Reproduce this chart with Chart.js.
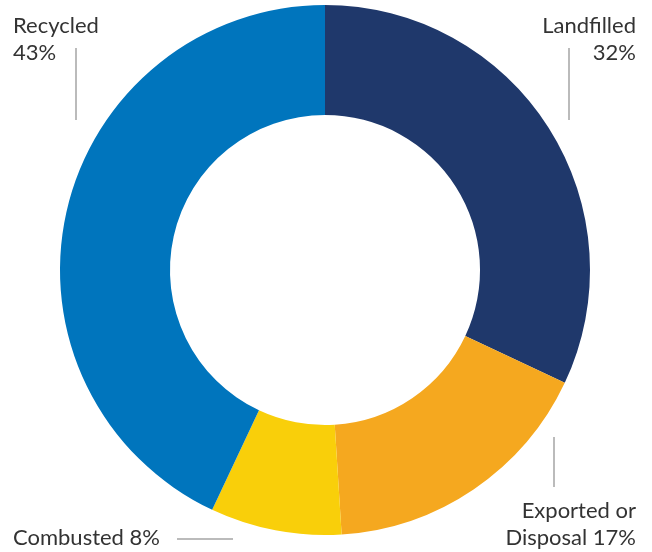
<!DOCTYPE html>
<html>
<head>
<meta charset="utf-8">
<script src="https://cdn.jsdelivr.net/npm/chart.js@4"></script>
<style>
  html, body { margin: 0; padding: 0; background: #fff; }
  #wrap { position: relative; width: 652px; height: 552px; }
</style>
</head>
<body>
<div id="wrap"><canvas id="waste"></canvas></div>
<script>
// Share of waste by destination (percent)
const categories = ['Landfilled', 'Exported or Disposal', 'Combusted', 'Recycled'];
const shares = [32, 17, 8, 43];
const sliceColors = ['#1f386b', '#f5a81f', '#f9cf0a', '#0075bd'];

// Callout text, one entry per slice: lines, anchor, alignment, leader line
const callouts = [
  { lines: ['Landfilled', '32%'], x: 636, y: 33, align: 'right', lead: [569, 48, 569, 120] },
  { lines: ['Exported or', 'Disposal 17%'], x: 636, y: 518, align: 'right', lead: [554, 437, 554, 487] },
  { lines: ['Combusted 8%'], x: 13, y: 545, align: 'left', lead: [177, 539, 233, 539] },
  { lines: ['Recycled', '43%'], x: 13, y: 33, align: 'left', lead: [76, 48, 76, 120] }
];

const calloutPlugin = {
  id: 'callouts',
  afterDraw(chart) {
    const ctx = chart.ctx;
    ctx.save();
    ctx.font = '22px Lato, "Open Sans", sans-serif';
    ctx.fillStyle = '#333';
    ctx.textBaseline = 'alphabetic';
    for (const c of callouts) {
      ctx.textAlign = c.align;
      c.lines.forEach((t, i) => ctx.fillText(t, c.x, c.y + i * 27));
      ctx.strokeStyle = '#bbbbbb';
      ctx.lineWidth = 2;
      ctx.beginPath();
      ctx.moveTo(c.lead[0], c.lead[1]);
      ctx.lineTo(c.lead[2], c.lead[3]);
      ctx.stroke();
    }
    ctx.restore();
  }
};

new Chart(document.getElementById('waste'), {
  type: 'doughnut',
  data: {
    labels: categories,
    datasets: [{
      data: shares,
      backgroundColor: sliceColors,
      borderWidth: 0
    }]
  },
  options: {
    responsive: true,
    maintainAspectRatio: false,
    animation: false,
    cutout: '58.5%',
    layout: { padding: { top: 5, bottom: 17, left: 0, right: 2 } },
    plugins: {
      legend: { display: false },
      tooltip: { enabled: false }
    }
  },
  plugins: [calloutPlugin]
});
</script>
</body>
</html>
